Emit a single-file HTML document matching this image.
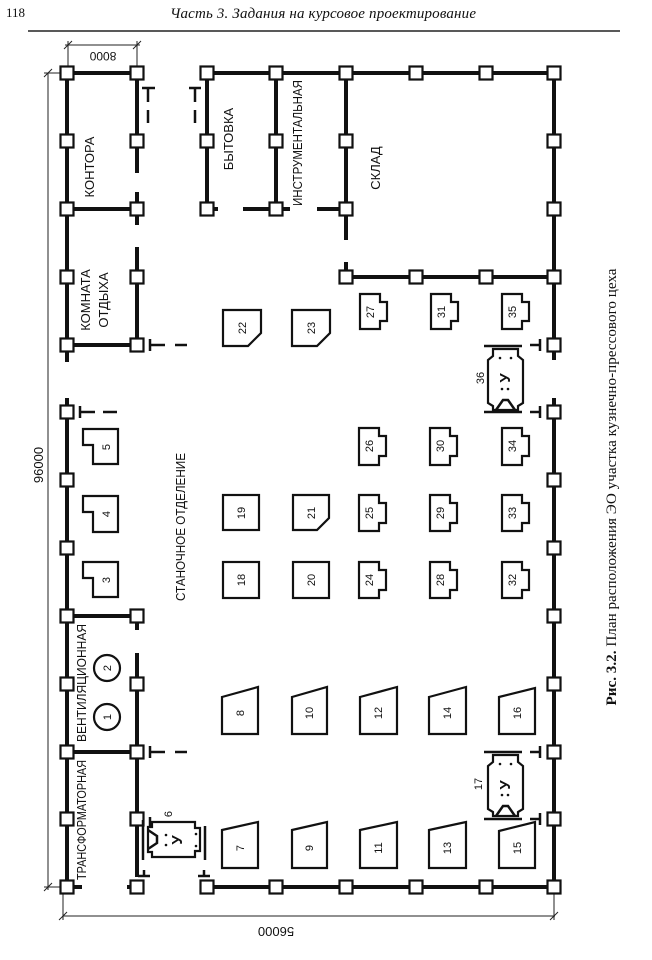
<!DOCTYPE html>
<html><head><meta charset="utf-8"><style>
html,body{margin:0;padding:0;background:#fff;}
svg{display:block;}
text{fill:#111;}
</style></head><body>
<svg width="652" height="960" viewBox="0 0 652 960" xmlns="http://www.w3.org/2000/svg" style="font-family:'Liberation Sans','DejaVu Sans',sans-serif">
<defs>
<rect id="c" x="-6.5" y="-6.5" width="13" height="13" fill="#fff" stroke="#111" stroke-width="2.2"/>
</defs>
<!-- header -->
<text x="6" y="17" style="font-family:'Liberation Serif',serif;font-size:13px">118</text>
<text x="323" y="18" text-anchor="middle" style="font-family:'Liberation Serif',serif;font-style:italic;font-size:15px" textLength="306">Часть 3. Задания на курсовое проектирование</text>
<line x1="28" y1="31" x2="620" y2="31" stroke="#222" stroke-width="1.5"/>

<!-- dimension lines -->
<g stroke="#222" stroke-width="1" fill="none">
<line x1="48" y1="73" x2="48" y2="890"/>
<line x1="44" y1="73" x2="67" y2="73"/><line x1="44" y1="887" x2="67" y2="887"/>
<line x1="44" y1="77" x2="52" y2="69"/><line x1="44" y1="891" x2="52" y2="883"/>
<line x1="63" y1="916" x2="555" y2="916"/>
<line x1="63" y1="890" x2="63" y2="920"/><line x1="554" y1="890" x2="554" y2="920"/>
<line x1="59" y1="920" x2="67" y2="912"/><line x1="550" y1="920" x2="558" y2="912"/>
<line x1="65" y1="45" x2="140" y2="45"/>
<line x1="68" y1="41" x2="68" y2="66"/><line x1="137" y1="41" x2="137" y2="66"/>
<line x1="64" y1="49" x2="72" y2="41"/><line x1="133" y1="49" x2="141" y2="41"/>
</g>
<text transform="translate(43,465) rotate(-90)" text-anchor="middle" font-size="13">96000</text>
<text transform="translate(276,927) rotate(180)" text-anchor="middle" font-size="13">56000</text>
<text transform="translate(103,52) rotate(180)" text-anchor="middle" font-size="12">8000</text>

<!-- walls -->
<g stroke="#111" stroke-width="4" fill="none">
<line x1="67" y1="70" x2="67" y2="362"/><line x1="67" y1="398" x2="67" y2="890"/>
<line x1="554" y1="73" x2="554" y2="360"/><line x1="554" y1="398" x2="554" y2="887"/>
<line x1="137" y1="73" x2="137" y2="173"/><line x1="137" y1="192" x2="137" y2="225"/><line x1="137" y1="247" x2="137" y2="345"/>
<line x1="137" y1="616" x2="137" y2="630"/><line x1="137" y1="653" x2="137" y2="877"/>
<line x1="67" y1="73" x2="137" y2="73"/><line x1="67" y1="209" x2="137" y2="209"/><line x1="67" y1="345" x2="137" y2="345"/>
<line x1="67" y1="616" x2="137" y2="616"/><line x1="67" y1="752" x2="137" y2="752"/>
<line x1="67" y1="887" x2="82" y2="887"/><line x1="127" y1="887" x2="137" y2="887"/>
<line x1="207" y1="73" x2="554" y2="73"/>
<line x1="207" y1="887" x2="554" y2="887"/>
<line x1="207" y1="73" x2="207" y2="209"/><line x1="276" y1="73" x2="276" y2="209"/>
<line x1="346" y1="73" x2="346" y2="240"/><line x1="346" y1="262" x2="346" y2="277"/>
<line x1="207" y1="209" x2="218" y2="209"/><line x1="243" y1="209" x2="290" y2="209"/><line x1="317" y1="209" x2="346" y2="209"/>
<line x1="346" y1="277" x2="554" y2="277"/>
</g>
<!-- door marks -->
<g stroke="#111" stroke-width="2.5" fill="none">
<line x1="150" y1="339" x2="150" y2="351"/><line x1="150" y1="345" x2="165" y2="345"/><line x1="175" y1="345" x2="187" y2="345"/>
<line x1="150" y1="746" x2="150" y2="758"/><line x1="150" y1="752" x2="165" y2="752"/><line x1="175" y1="752" x2="187" y2="752"/>
<line x1="80" y1="406" x2="80" y2="418"/><line x1="80" y1="412" x2="95" y2="412"/><line x1="103" y1="412" x2="117" y2="412"/>
<line x1="142" y1="88" x2="155" y2="88"/><line x1="148" y1="88" x2="148" y2="102"/><line x1="148" y1="110" x2="148" y2="123"/>
<line x1="189" y1="88" x2="201" y2="88"/><line x1="195" y1="88" x2="195" y2="102"/><line x1="195" y1="110" x2="195" y2="123"/>
<line x1="540" y1="339" x2="540" y2="351"/><line x1="530" y1="345" x2="540" y2="345"/>
<line x1="540" y1="406" x2="540" y2="418"/><line x1="530" y1="412" x2="540" y2="412"/>
<line x1="540" y1="746" x2="540" y2="758"/><line x1="530" y1="752" x2="540" y2="752"/>
<line x1="540" y1="813" x2="540" y2="825"/><line x1="530" y1="819" x2="540" y2="819"/>
<line x1="138" y1="876" x2="150" y2="876"/><line x1="144" y1="870" x2="144" y2="876"/>
<line x1="198" y1="876" x2="210" y2="876"/><line x1="204" y1="870" x2="204" y2="876"/>
<line x1="150" y1="817" x2="150" y2="829"/><line x1="150" y1="823" x2="160" y2="823"/><line x1="167" y1="823" x2="184" y2="823"/>
</g>

<!-- columns -->
<g>
<use href="#c" x="67" y="73"/><use href="#c" x="67" y="141"/><use href="#c" x="67" y="209"/><use href="#c" x="67" y="277"/><use href="#c" x="67" y="345"/><use href="#c" x="67" y="412"/><use href="#c" x="67" y="480"/><use href="#c" x="67" y="548"/><use href="#c" x="67" y="616"/><use href="#c" x="67" y="684"/><use href="#c" x="67" y="752"/><use href="#c" x="67" y="819"/><use href="#c" x="67" y="887"/>
<use href="#c" x="554" y="73"/><use href="#c" x="554" y="141"/><use href="#c" x="554" y="209"/><use href="#c" x="554" y="277"/><use href="#c" x="554" y="345"/><use href="#c" x="554" y="412"/><use href="#c" x="554" y="480"/><use href="#c" x="554" y="548"/><use href="#c" x="554" y="616"/><use href="#c" x="554" y="684"/><use href="#c" x="554" y="752"/><use href="#c" x="554" y="819"/><use href="#c" x="554" y="887"/>
<use href="#c" x="137" y="73"/><use href="#c" x="137" y="141"/><use href="#c" x="137" y="209"/><use href="#c" x="137" y="277"/><use href="#c" x="137" y="345"/><use href="#c" x="137" y="616"/><use href="#c" x="137" y="684"/><use href="#c" x="137" y="752"/><use href="#c" x="137" y="819"/><use href="#c" x="137" y="887"/>
<use href="#c" x="207" y="73"/><use href="#c" x="276" y="73"/><use href="#c" x="346" y="73"/><use href="#c" x="416" y="73"/><use href="#c" x="486" y="73"/>
<use href="#c" x="207" y="887"/><use href="#c" x="276" y="887"/><use href="#c" x="346" y="887"/><use href="#c" x="416" y="887"/><use href="#c" x="486" y="887"/>
<use href="#c" x="207" y="141"/><use href="#c" x="207" y="209"/><use href="#c" x="276" y="141"/><use href="#c" x="276" y="209"/>
<use href="#c" x="346" y="141"/><use href="#c" x="346" y="209"/><use href="#c" x="346" y="277"/><use href="#c" x="416" y="277"/><use href="#c" x="486" y="277"/>
</g>

<!-- machines -->
<g fill="#fff" stroke="#111" stroke-width="2.2">
<polygon points="222,830 258,822 258,868 222,868"/>
<polygon points="222,697 258,687 258,734 222,734"/>
<polygon points="292,830 327,822 327,868 292,868"/>
<polygon points="292,697 327,687 327,734 292,734"/>
<polygon points="360,830 397,822 397,868 360,868"/>
<polygon points="360,697 397,687 397,734 360,734"/>
<polygon points="429,830 466,822 466,868 429,868"/>
<polygon points="429,697 466,687 466,734 429,734"/>
<polygon points="499,831 535,822 535,868 499,868"/>
<polygon points="499,697 535,688 535,734 499,734"/>
<circle cx="107" cy="668" r="13"/><circle cx="107" cy="717" r="13"/>
<polygon points="83,562 118,562 118,597 93,597 93,578 83,578"/>
<polygon points="83,496 118,496 118,532 93,532 93,512 83,512"/>
<polygon points="83,429 118,429 118,464 93,464 93,445 83,445"/>
<rect x="223" y="562" width="36" height="36"/>
<rect x="223" y="495" width="36" height="35"/>
<rect x="293" y="562" width="36" height="36"/>
<polygon points="293,495 329,495 329,518 317,530 293,530"/>
<polygon points="223,310 261,310 261,333 248,346 223,346"/>
<polygon points="292,310 330,310 330,333 317,346 292,346"/>
<polygon points="359,562 379,562 379,570 386,570 386,590 379,590 379,598 359,598"/>
<polygon points="359,495 379,495 379,503 386,503 386,523 379,523 379,531 359,531"/>
<polygon points="359,428 379,428 379,436 386,436 386,456 379,456 379,465 359,465"/>
<polygon points="360,294 380,294 380,302 387,302 387,321 380,321 380,329 360,329"/>
<polygon points="430,562 450,562 450,570 457,570 457,590 450,590 450,598 430,598"/>
<polygon points="430,495 450,495 450,503 457,503 457,523 450,523 450,531 430,531"/>
<polygon points="430,428 450,428 450,436 457,436 457,456 450,456 450,465 430,465"/>
<polygon points="431,294 451,294 451,302 458,302 458,321 451,321 451,329 431,329"/>
<polygon points="502,562 522,562 522,570 529,570 529,590 522,590 522,598 502,598"/>
<polygon points="502,495 522,495 522,503 529,503 529,523 522,523 522,531 502,531"/>
<polygon points="502,428 522,428 522,436 529,436 529,456 522,456 522,465 502,465"/>
<polygon points="502,294 522,294 522,302 529,302 529,321 522,321 522,329 502,329"/>
<polygon points="493,349 518,349 518,356 523,360 523,403 518,406 518,410 493,410 493,406 488,403 488,360 493,356"/>
<polygon points="493,755 518,755 518,762 523,766 523,809 518,812 518,816 493,816 493,812 488,809 488,766 493,762"/>
<polygon points="152,827 152,822 195,822 195,828 200,828 200,851 195,851 195,857 152,857 152,852 148,852 148,827"/>
</g>
<g stroke="#111" stroke-width="2.5" fill="none">
<line x1="484" y1="346" x2="522" y2="346"/><line x1="484" y1="412" x2="522" y2="412"/>
<line x1="484" y1="752" x2="522" y2="752"/><line x1="484" y1="819" x2="522" y2="819"/>
<line x1="143" y1="820" x2="143" y2="860"/><line x1="205" y1="826" x2="205" y2="860"/>
<polyline points="496,410 503,400 508,400 515,410"/>
<polyline points="496,816 503,806 508,806 515,816"/>
<polyline points="148,830 157,836 157,843 148,849"/>
</g>
<g fill="#111">
<circle cx="500" cy="358" r="1.3"/><circle cx="511" cy="358" r="1.3"/><circle cx="502" cy="389" r="1.3"/><circle cx="508" cy="389" r="1.3"/>
<circle cx="500" cy="764" r="1.3"/><circle cx="511" cy="764" r="1.3"/><circle cx="502" cy="795" r="1.3"/><circle cx="508" cy="795" r="1.3"/>
<circle cx="166" cy="835" r="1.3"/><circle cx="166" cy="845" r="1.3"/><circle cx="196" cy="834" r="1.3"/><circle cx="196" cy="846" r="1.3"/>
</g>
<text transform="translate(510,378) rotate(-90)" text-anchor="middle" font-size="15" font-weight="bold">У</text>
<text transform="translate(510,785) rotate(-90)" text-anchor="middle" font-size="15" font-weight="bold">У</text>
<text transform="translate(182,840) rotate(-90)" text-anchor="middle" font-size="15" font-weight="bold">У</text>

<g font-size="11" text-anchor="middle">
<text transform="translate(244,848) rotate(-90)">7</text>
<text transform="translate(244,713) rotate(-90)">8</text>
<text transform="translate(313,848) rotate(-90)">9</text>
<text transform="translate(313,713) rotate(-90)">10</text>
<text transform="translate(382,848) rotate(-90)">11</text>
<text transform="translate(382,713) rotate(-90)">12</text>
<text transform="translate(451,848) rotate(-90)">13</text>
<text transform="translate(451,713) rotate(-90)">14</text>
<text transform="translate(521,848) rotate(-90)">15</text>
<text transform="translate(521,713) rotate(-90)">16</text>
<text transform="translate(111,717) rotate(-90)">1</text>
<text transform="translate(111,668) rotate(-90)">2</text>
<text transform="translate(110,580) rotate(-90)">3</text>
<text transform="translate(110,514) rotate(-90)">4</text>
<text transform="translate(110,447) rotate(-90)">5</text>
<text transform="translate(245,580) rotate(-90)">18</text>
<text transform="translate(245,513) rotate(-90)">19</text>
<text transform="translate(315,580) rotate(-90)">20</text>
<text transform="translate(315,513) rotate(-90)">21</text>
<text transform="translate(246,328) rotate(-90)">22</text>
<text transform="translate(315,328) rotate(-90)">23</text>
<text transform="translate(373,580) rotate(-90)">24</text>
<text transform="translate(373,513) rotate(-90)">25</text>
<text transform="translate(373,446) rotate(-90)">26</text>
<text transform="translate(374,312) rotate(-90)">27</text>
<text transform="translate(444,580) rotate(-90)">28</text>
<text transform="translate(444,513) rotate(-90)">29</text>
<text transform="translate(444,446) rotate(-90)">30</text>
<text transform="translate(445,312) rotate(-90)">31</text>
<text transform="translate(516,580) rotate(-90)">32</text>
<text transform="translate(516,513) rotate(-90)">33</text>
<text transform="translate(516,446) rotate(-90)">34</text>
<text transform="translate(516,312) rotate(-90)">35</text>
<text transform="translate(484,378) rotate(-90)">36</text>
<text transform="translate(482,784) rotate(-90)">17</text>
<text transform="translate(172,814) rotate(-90)">6</text>
</g>

<g font-size="13" text-anchor="middle">
<text transform="translate(94,167) rotate(-90)">КОНТОРА</text>
<text transform="translate(90,300) rotate(-90)">КОМНАТА</text>
<text transform="translate(108,300) rotate(-90)">ОТДЫХА</text>
<text transform="translate(233,139) rotate(-90)">БЫТОВКА</text>
<text transform="translate(302,143) rotate(-90)" textLength="126" lengthAdjust="spacingAndGlyphs">ИНСТРУМЕНТАЛЬНАЯ</text>
<text transform="translate(380,168) rotate(-90)">СКЛАД</text>
<text transform="translate(185,527) rotate(-90)" textLength="148" lengthAdjust="spacingAndGlyphs">СТАНОЧНОЕ ОТДЕЛЕНИЕ</text>
<text transform="translate(86,683) rotate(-90)" textLength="118" lengthAdjust="spacingAndGlyphs">ВЕНТИЛЯЦИОННАЯ</text>
<text transform="translate(86,820) rotate(-90)" textLength="120" lengthAdjust="spacingAndGlyphs">ТРАНСФОРМАТОРНАЯ</text>
</g>

<text transform="translate(616,487) rotate(-90)" text-anchor="middle" style="font-family:'Liberation Serif',serif;font-size:15px" textLength="437" lengthAdjust="spacingAndGlyphs"><tspan font-weight="bold">Рис. 3.2.</tspan> План расположения ЭО участка кузнечно-прессового цеха</text>
</svg>
</body></html>
